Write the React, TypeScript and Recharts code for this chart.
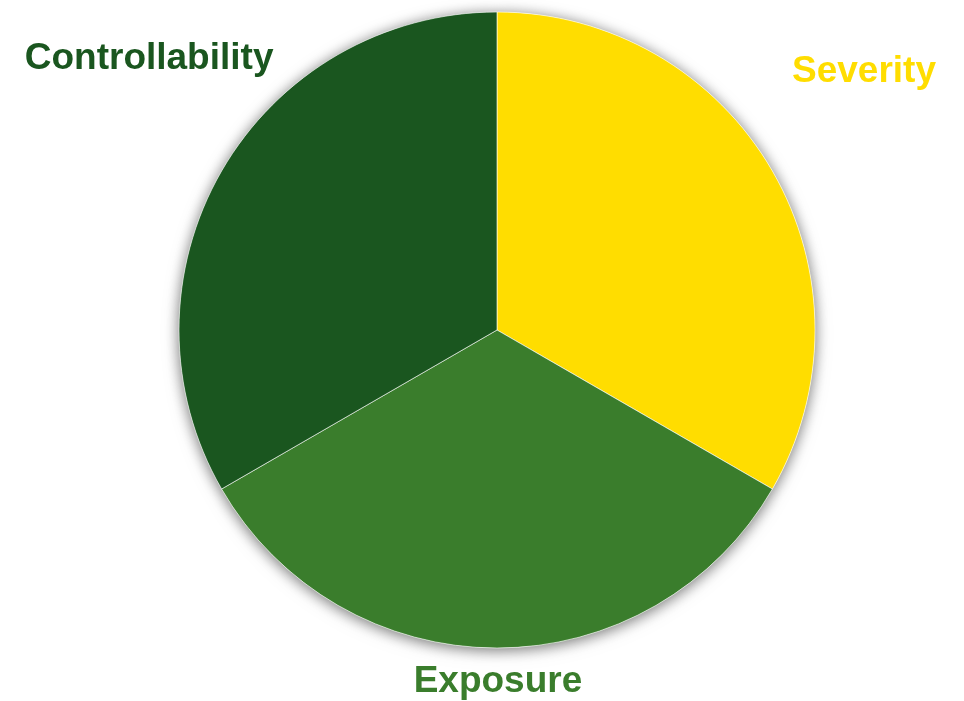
import React from 'react';
import { PieChart, Pie, Cell } from 'recharts';

const categories = ['Severity', 'Exposure', 'Controllability'];
const values = [33.3, 33.3, 33.3];
const colors = ['#FFDD00', '#3A7D2C', '#1A561F'];

// label placement relative to pie centre, in units of outer radius
const labelPlacement: Record<string, { dx: number; dy: number }> = {
  Severity: { dx: 1.154, dy: -0.78 },
  Exposure: { dx: 0.003, dy: 1.137 },
  Controllability: { dx: -1.094, dy: -0.82 },
};

const data = categories.map((name, i) => ({ name, value: values[i] }));

const renderLabel = (props: any) => {
  const { cx, cy, outerRadius, name, index } = props;
  const p = labelPlacement[name];
  if (!p) return null;
  return (
    <text
      x={cx + p.dx * outerRadius}
      y={cy + p.dy * outerRadius}
      textAnchor="middle"
      fill={colors[index]}
      style={{ fontFamily: '"Liberation Sans", Arial, sans-serif', fontWeight: 700, fontSize: 37 }}
    >
      {name}
    </text>
  );
};

export default function App() {
  return (
    <div style={{ position: 'absolute', left: 0, top: 0, width: 964, height: 701, background: '#fff' }}>
      <style>{`.pie-shadow { filter: drop-shadow(0px 2px 7px rgba(0,0,0,0.3)); }`}</style>
      <PieChart width={964} height={701} margin={{ top: 0, right: 0, bottom: 0, left: 0 }}>
        <Pie
          className="pie-shadow"
          data={data}
          dataKey="value"
          nameKey="name"
          cx={497}
          cy={330}
          outerRadius={318}
          startAngle={90}
          endAngle={-270}
          fill="#ffffff"
          stroke="none"
          isAnimationActive={false}
          label={false}
          labelLine={false}
        />
        <Pie
          data={data}
          dataKey="value"
          nameKey="name"
          cx={497}
          cy={330}
          outerRadius={318}
          startAngle={90}
          endAngle={-270}
          stroke="#ffffff"
          strokeWidth={0.6}
          isAnimationActive={false}
          label={renderLabel}
          labelLine={false}
        >
          {data.map((d, i) => (
            <Cell key={d.name} fill={colors[i]} />
          ))}
        </Pie>
      </PieChart>
    </div>
  );
}
